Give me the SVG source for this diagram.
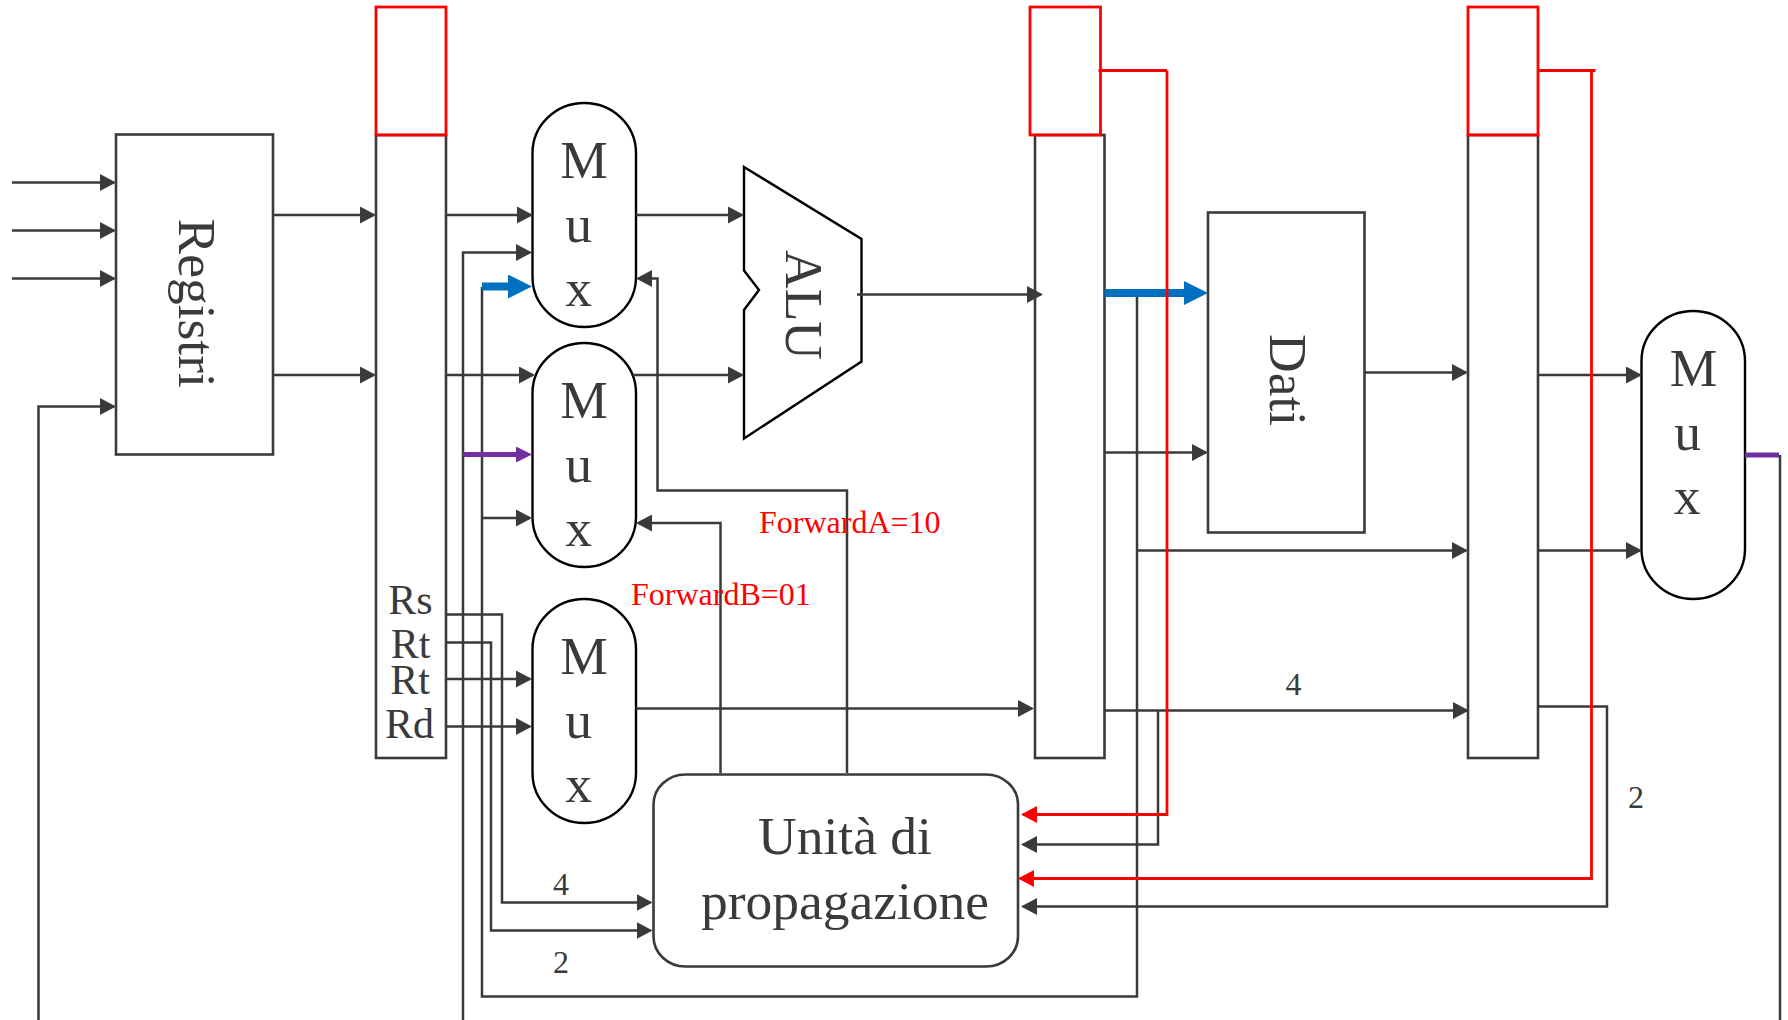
<svg xmlns="http://www.w3.org/2000/svg" width="1788" height="1020" viewBox="0 0 1788 1020">
<style>
.box{fill:#fff;stroke:#3a3a3a;stroke-width:2.6}
.blk{fill:#fff;stroke:#000;stroke-width:2.4}
.reg{fill:none;stroke:#f00;stroke-width:2.8}
.t{font-family:"Liberation Serif","Times New Roman",serif;fill:#3a3a3a}
.big{font-size:53.5px}
.mid{font-size:42px;text-anchor:middle}
.num{font-size:32px;text-anchor:middle}
.fw{font-family:"Liberation Serif","Times New Roman",serif;fill:#f00;font-size:32px}
.c{text-anchor:middle}
#connectors path{fill:none;stroke:#3a3a3a;stroke-width:2.5}
#connectors path.a{marker-end:url(#ad)}
#connectors path.r{stroke:#f00;stroke-width:2.8}
#connectors path.ra{stroke:#f00;stroke-width:2.8;marker-end:url(#ar)}
#connectors path.b{stroke:#0070c0;stroke-width:8;marker-end:url(#ab)}
#connectors path.p{stroke:#7030a0;stroke-width:5;marker-end:url(#ap)}
#connectors path.pn{stroke:#7030a0;stroke-width:5}
</style>
<defs>
<marker id="ad" viewBox="0 0 16 17" refX="14" refY="8.5" markerWidth="16" markerHeight="17" markerUnits="userSpaceOnUse" orient="auto"><path d="M0,0L16,8.5L0,17z" fill="#3a3a3a"/></marker>
<marker id="ar" viewBox="0 0 16 17" refX="14" refY="8.5" markerWidth="16" markerHeight="17" markerUnits="userSpaceOnUse" orient="auto"><path d="M0,0L16,8.5L0,17z" fill="#f00"/></marker>
<marker id="ab" viewBox="0 0 24 24" refX="12" refY="12" markerWidth="24" markerHeight="24" markerUnits="userSpaceOnUse" orient="auto"><path d="M0,0L24,12L0,24z" fill="#0070c0"/></marker>
<marker id="ap" viewBox="0 0 16 16" refX="8" refY="8" markerWidth="16" markerHeight="16" markerUnits="userSpaceOnUse" orient="auto"><path d="M0,0L16,8L0,16z" fill="#7030a0"/></marker>
</defs>
<rect width="1788" height="1020" fill="#fff"/>

<g id="registri">
<rect class="box" x="116" y="134.5" width="157" height="320"/>
<text class="t big" transform="translate(178.5,218.500) rotate(90)">Registri</text>
</g>
<g id="pipe1">
<rect class="box" x="376" y="135" width="70" height="623"/>
<rect class="reg" x="376" y="7" width="70" height="128"/>
<text class="t mid" x="410.5" y="614">Rs</text>
<text class="t mid" x="410.5" y="658">Rt</text>
<text class="t mid" x="410" y="694">Rt</text>
<text class="t mid" x="409.5" y="737.5">Rd</text>
</g>
<g id="mux1">
<rect class="blk" x="532.5" y="103" width="103.5" height="224" rx="52" ry="50"/>
<text class="t big c" x="584" y="178">M</text><text class="t big c" x="578.5" y="241.5">u</text><text class="t big c" x="578.5" y="306">x</text>
</g>
<g id="mux2">
<rect class="blk" x="532.5" y="343" width="103.5" height="224" rx="52" ry="50"/>
<text class="t big c" x="584" y="418">M</text><text class="t big c" x="578.5" y="481.5">u</text><text class="t big c" x="578.5" y="545.5">x</text>
</g>
<g id="mux3">
<rect class="blk" x="532.5" y="599" width="103.5" height="224" rx="52" ry="50"/>
<text class="t big c" x="584" y="673.5">M</text><text class="t big c" x="578.5" y="737.5">u</text><text class="t big c" x="578.5" y="801.5">x</text>
</g>
<g id="alu">
<path class="blk" d="M744,167L861.5,239V361.5L744,438.5V310L759,290L744,270.5Z"/>
<text class="t big" transform="translate(785.500,250) rotate(90)">ALU</text>
</g>
<g id="pipe2">
<rect class="box" x="1035" y="135" width="69.5" height="623"/>
<rect class="reg" x="1030" y="7" width="70.5" height="128"/>
</g>
<g id="dati">
<rect class="box" x="1208" y="212.5" width="156.5" height="320"/>
<text class="t big" transform="translate(1270,334) rotate(90)">Dati</text>
</g>
<g id="pipe3">
<rect class="box" x="1468" y="135" width="70" height="623"/>
<rect class="reg" x="1468" y="7" width="70" height="128"/>
</g>
<g id="mux4">
<rect class="blk" x="1641.5" y="311" width="103.5" height="288" rx="52" ry="50"/>
<text class="t big c" x="1693.5" y="386">M</text><text class="t big c" x="1687.5" y="450">u</text><text class="t big c" x="1687" y="513.500">x</text>
</g>
<g id="unita">
<rect class="box" x="653.5" y="774.500" width="364.5" height="192" rx="32" ry="30"/>
<text class="t big c" x="845" y="854">Unità di</text>
<text class="t big c" x="845" y="919">propagazione</text>
</g>

<g id="connectors">
<path class="a" d="M12,182.500H114"/>
<path class="a" d="M12,230.500H114"/>
<path class="a" d="M12,278.500H114"/>
<path class="a" d="M38.5,1020V406.500H114"/>
<path class="a" d="M273,215H374"/>
<path class="a" d="M273,375H374"/>
<path class="a" d="M446,215H531"/>
<path class="a" d="M463,1020V252.500H530"/>
<path d="M482,287V996.500H1137V293"/>
<path class="b" d="M482,286.500H520"/>
<path class="a" d="M446,375H533"/>
<path class="p" d="M463,454.500H524"/>
<path class="a" d="M481,518H530"/>
<path class="a" d="M636,215H742"/>
<path class="a" d="M633,375H742"/>
<path class="a" d="M857,294.500H1041"/>
<path class="a" d="M847,773V490.500H657.5V278.500H638"/>
<path class="a" d="M720.500,773V523H638"/>
<path class="a" d="M446,614.500H502V902.500H650.500"/>
<path class="a" d="M446,642.500H491V930.500H650.500"/>
<path class="a" d="M446,679H530"/>
<path class="a" d="M446,726.500H530"/>
<path class="a" d="M636,708.500H1032"/>
<path class="b" d="M1104.500,293H1196"/>
<path class="a" d="M1104.500,452.500H1206"/>
<path class="a" d="M1137,550.500H1466"/>
<path class="a" d="M1104.500,710.500H1467"/>
<path class="a" d="M1158,710.500V844.500H1023"/>
<path class="a" d="M1364.500,372.500H1466"/>
<path class="a" d="M1538,375H1640"/>
<path class="a" d="M1538,550.500H1640"/>
<path class="a" d="M1538,706.500H1607V906.500H1023"/>
<path class="pn" d="M1745,455H1779"/>
<path d="M1780,455V1020"/>
<path class="r" d="M1098.500,70.500H1167"/>
<path class="ra" d="M1167,70.500V814.500H1023"/>
<path class="r" d="M1538,70.500H1595.500"/>
<path class="ra" d="M1591.500,70.500V878.500H1020"/>
</g>
<g id="labels">
<text class="t num" x="561" y="895">4</text>
<text class="t num" x="561" y="973">2</text>
<text class="t num" x="1293.500" y="694.500">4</text>
<text class="t num" x="1636" y="808">2</text>
<text class="fw" x="759" y="533">ForwardA=10</text>
<text class="fw" x="631" y="605">ForwardB=01</text>
</g>
</svg>
